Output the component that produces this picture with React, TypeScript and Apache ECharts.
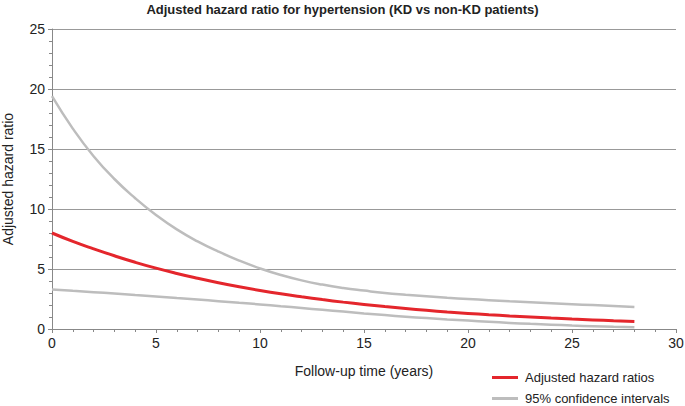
import React, { useEffect, useRef } from "react";
import * as echarts from "echarts";

const years = [0, 1, 2, 3, 4, 5, 6, 7, 8, 9, 10, 11, 12, 13, 14, 15, 16, 17, 18, 19, 20, 21, 22, 23, 24, 25, 26, 27, 28];
const hazardRatio = [8.0, 7.3, 6.68, 6.1, 5.56, 5.07, 4.63, 4.23, 3.86, 3.52, 3.21, 2.93, 2.68, 2.45, 2.24, 2.05, 1.87, 1.71, 1.56, 1.42, 1.3, 1.19, 1.09, 1.0, 0.91, 0.83, 0.76, 0.69, 0.63];
const upperCI = [19.4, 16.7, 14.4, 12.5, 10.9, 9.5, 8.3, 7.3, 6.45, 5.7, 5.05, 4.5, 4.05, 3.7, 3.42, 3.2, 3.0, 2.85, 2.72, 2.6, 2.5, 2.4, 2.31, 2.23, 2.15, 2.07, 1.99, 1.91, 1.83];
const lowerCI = [3.3, 3.18, 3.07, 2.95, 2.83, 2.71, 2.58, 2.45, 2.32, 2.18, 2.05, 1.9, 1.75, 1.6, 1.45, 1.3, 1.16, 1.03, 0.91, 0.8, 0.7, 0.6, 0.51, 0.43, 0.36, 0.29, 0.23, 0.18, 0.15];

const title = "Adjusted hazard ratio for hypertension (KD vs non-KD patients)";
const hrName = "Adjusted hazard ratios";
const ciName = "95% confidence intervals";

const FONT = "Liberation Sans, Arial, Helvetica, sans-serif";

export default function App() {
  const ref = useRef<HTMLDivElement>(null);
  useEffect(() => {
    if (!ref.current) return;
    const chart = echarts.init(ref.current, undefined, { renderer: "svg" });
    const pair = (arr: number[]) => years.map((x, i) => [x, arr[i]]);
    const legendBase = {
      orient: "horizontal",
      left: 492,
      padding: 0,
      itemWidth: 26,
      itemHeight: 3,
      icon: "rect",
      textStyle: { fontSize: 13, color: "#222", fontFamily: FONT, padding: [0, 0, 0, 2] },
    };
    const ciLine = (arr: number[]) => ({
      name: ciName,
      type: "line",
      data: pair(arr),
      smooth: true,
      showSymbol: false,
      symbol: "none",
      lineStyle: { color: "#bdbdbd", width: 2.5 },
      itemStyle: { color: "#bdbdbd" },
    });
    chart.setOption({
      animation: false,
      backgroundColor: "#ffffff",
      textStyle: { fontFamily: FONT },
      title: {
        text: title,
        left: "center",
        top: 3,
        padding: 0,
        textStyle: { fontSize: 13, fontWeight: "bold", color: "#222", fontFamily: FONT },
      },
      grid: { left: 52, right: 9, top: 29, bottom: 77, containLabel: false, outerBoundsMode: "none" },
      legend: [
        { ...legendBase, top: 371, data: [hrName] },
        { ...legendBase, top: 392, data: [ciName] },
      ],
      xAxis: {
        type: "value",
        min: 0,
        max: 30,
        interval: 5,
        name: "Follow-up time (years)",
        nameLocation: "middle",
        nameGap: 35,
        nameTextStyle: { fontSize: 14, color: "#222", fontFamily: FONT },
        axisLine: { show: true, lineStyle: { color: "#888", width: 1 } },
        axisTick: { show: true, length: 4, lineStyle: { color: "#888" } },
        minorTick: { show: true, splitNumber: 5, length: 3, lineStyle: { color: "#888" } },
        axisLabel: { fontSize: 14, color: "#222", margin: 7, fontFamily: FONT },
        splitLine: { show: false },
      },
      yAxis: {
        type: "value",
        min: 0,
        max: 25,
        interval: 5,
        name: "Adjusted hazard ratio",
        nameLocation: "middle",
        nameGap: 37,
        nameTextStyle: { fontSize: 14, color: "#222", fontFamily: FONT },
        axisLine: { show: true, lineStyle: { color: "#888", width: 1 } },
        axisTick: { show: true, length: 4, lineStyle: { color: "#888" } },
        minorTick: { show: true, splitNumber: 5, length: 3, lineStyle: { color: "#888" } },
        axisLabel: { fontSize: 14, color: "#222", margin: 7, fontFamily: FONT },
        splitLine: { show: true, lineStyle: { color: "#999", width: 1 } },
      },
      series: [
        ciLine(upperCI),
        ciLine(lowerCI),
        {
          name: hrName,
          type: "line",
          data: pair(hazardRatio),
          smooth: true,
          showSymbol: false,
          symbol: "none",
          lineStyle: { color: "#e4262c", width: 3 },
          itemStyle: { color: "#e4262c" },
        },
      ],
    });
    return () => chart.dispose();
  }, []);
  return <div ref={ref} style={{ position: "fixed", left: 0, top: 0, width: 685, height: 406 }} />;
}
